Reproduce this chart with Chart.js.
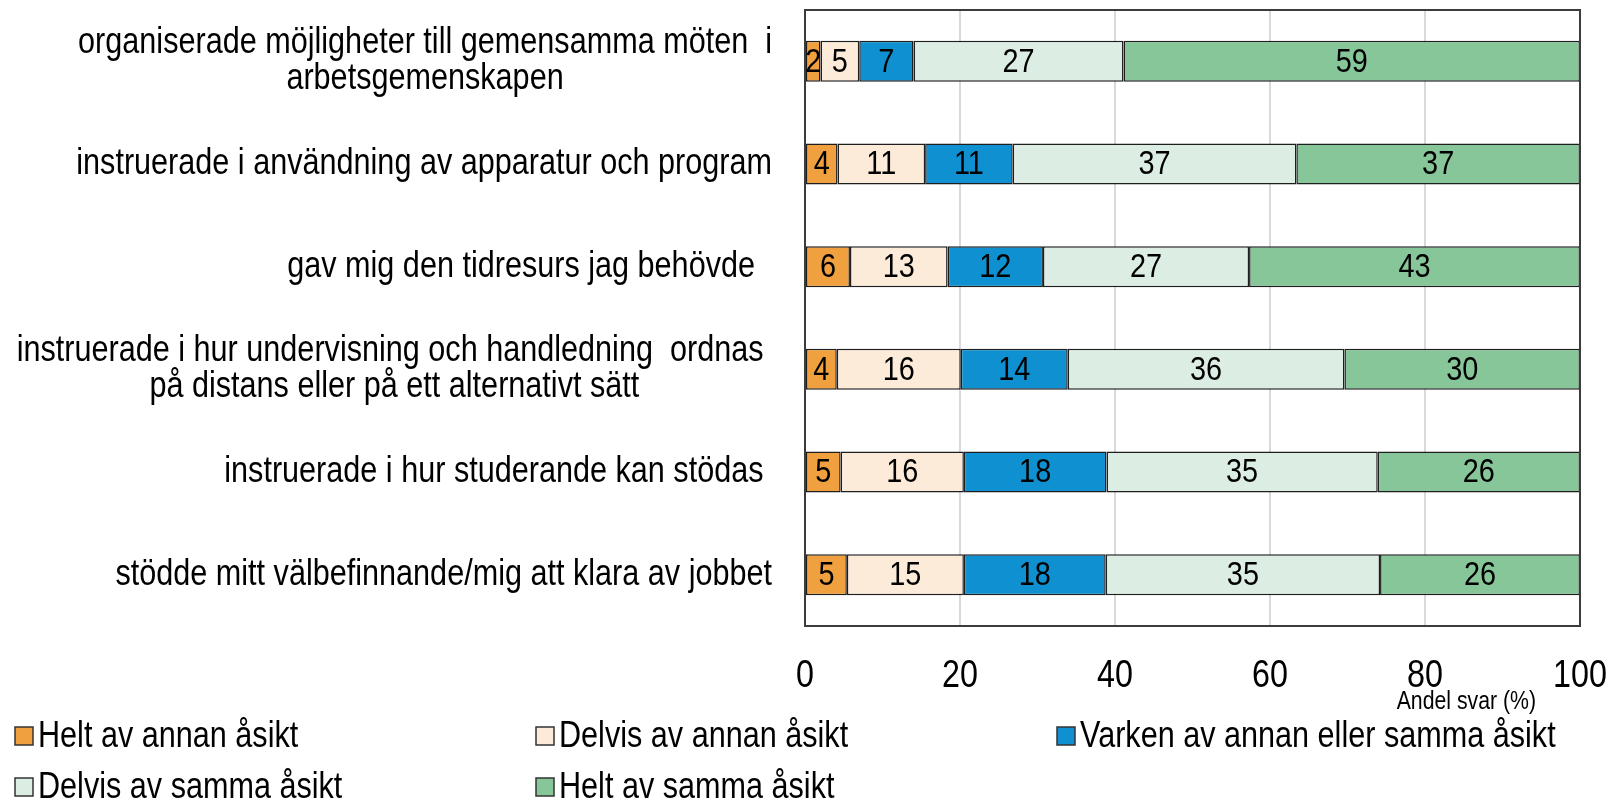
<!DOCTYPE html>
<html>
<head>
<meta charset="utf-8">
<script src="https://cdn.jsdelivr.net/npm/chart.js@4.4.1/dist/chart.umd.min.js"></script>
<style>
  html, body { margin: 0; padding: 0; background: #fff; }
</style>
</head>
<body>
<canvas id="chart" width="1609" height="801"></canvas>
<script>
// statements (multi-line labels keep the original line breaks)
const categories = [
    ['organiserade möjligheter till gemensamma möten  i', 'arbetsgemenskapen'],
    ['instruerade i användning av apparatur och program'],
    ['gav mig den tidresurs jag behövde  '],
    ['instruerade i hur undervisning och handledning  ordnas ', 'på distans eller på ett alternativt sätt'],
    ['instruerade i hur studerande kan stödas '],
    ['stödde mitt välbefinnande/mig att klara av jobbet']
];

const seriesNames = [
    'Helt av annan åsikt',
    'Delvis av annan åsikt',
    'Varken av annan eller samma åsikt',
    'Delvis av samma åsikt',
    'Helt av samma åsikt'
];

// share of answers (%)
const heltAnnan   = [2.0, 4.2, 5.8, 4.1, 4.6, 5.4];
const delvisAnnan = [5.0, 11.3, 12.6, 16.0, 15.9, 15.1];
const varken      = [7.0, 11.3, 12.3, 13.8, 18.4, 18.3];
const delvisSamma = [27.1, 36.6, 26.6, 35.7, 35.0, 35.4];
const heltSamma   = [58.9, 36.6, 42.7, 30.4, 26.1, 25.8];

const xTicks = [0, 20, 40, 60, 80, 100];
const axisTitle = 'Andel svar (%)';

const colors = ['#F0A03E', '#FDEBD9', '#0F91D1', '#DCEEE3', '#86C698'];

const FONT = '"Liberation Sans", Arial, sans-serif';
const SQUEEZE = 0.85; // the original uses a condensed Arial look

const seriesData = [heltAnnan, delvisAnnan, varken, delvisSamma, heltSamma];

function drawText(ctx, text, x, y, size, align) {
    ctx.save();
    ctx.font = size + 'px ' + FONT;
    ctx.translate(x, y);
    ctx.scale(SQUEEZE, 1);
    ctx.textAlign = align;
    ctx.textBaseline = 'middle';
    ctx.fillStyle = '#000';
    ctx.fillText(text, 0, 0);
    ctx.restore();
}

function textWidth(ctx, text, size) {
    ctx.save();
    ctx.font = size + 'px ' + FONT;
    const w = ctx.measureText(text).width * SQUEEZE;
    ctx.restore();
    return w;
}

// draws category labels, value labels, ticks, frame, axis title and legend
const extras = {
    id: 'extras',
    afterDraw(chart) {
        const ctx = chart.ctx;
        const area = chart.chartArea;
        const xScale = chart.scales.x;
        const yScale = chart.scales.y;
        ctx.save();

        // frame around plot
        ctx.strokeStyle = '#3c3c3c';
        ctx.lineWidth = 2;
        ctx.strokeRect(area.left, area.top, area.right - area.left, area.bottom - area.top);

        // value labels inside bars
        chart.data.datasets.forEach((ds, di) => {
            chart.getDatasetMeta(di).data.forEach((bar, i) => {
                const cx = (bar.x + bar.base) / 2;
                drawText(ctx, String(Math.round(ds.data[i])), cx, bar.y + 1, 34, 'center');
            });
        });

        // category labels: blocks right aligned, lines centred
        categories.forEach((lines, i) => {
            const yc = yScale.getPixelForValue(i);
            const w = Math.max(...lines.map(l => textWidth(ctx, l, 36)));
            const cx = area.left - 33 - w / 2;
            lines.forEach((l, j) => {
                drawText(ctx, l, cx, yc + (j - (lines.length - 1) / 2) * 36, 36, 'center');
            });
        });

        // x tick labels
        xTicks.forEach(v => {
            drawText(ctx, String(v), xScale.getPixelForValue(v), area.bottom + 51, 38, 'center');
        });

        // axis title
        drawText(ctx, axisTitle, area.right - 44, area.bottom + 76, 25, 'right');

        // legend, 3 columns
        seriesNames.forEach((name, i) => {
            const col = i % 3, row = Math.floor(i / 3);
            const x = 15 + col * 521;
            const y = 736 + row * 51;
            ctx.fillStyle = colors[i];
            ctx.fillRect(x, y - 9, 18, 18);
            ctx.strokeStyle = '#333';
            ctx.lineWidth = 1.5;
            ctx.strokeRect(x, y - 9, 18, 18);
            drawText(ctx, name, x + 23, y + 1, 36, 'left');
        });

        ctx.restore();
    }
};

const ctx = document.getElementById('chart').getContext('2d');
new Chart(ctx, {
    type: 'bar',
    data: {
        labels: categories.map(c => c.join(' ')),
        datasets: seriesNames.map((name, i) => ({
            label: name,
            data: seriesData[i],
            backgroundColor: colors[i],
            borderColor: '#1e1e1e',
            borderWidth: 1.5,
            borderSkipped: false,
            barPercentage: 0.4,
            categoryPercentage: 1.0
        }))
    },
    options: {
        indexAxis: 'y',
        responsive: false,
        animation: false,
        layout: { padding: { top: 10, right: 29, bottom: 0, left: 0 } },
        plugins: {
            legend: { display: false },
            tooltip: { enabled: false }
        },
        scales: {
            x: {
                stacked: true,
                min: 0,
                max: 100,
                afterBuildTicks: scale => { scale.ticks = xTicks.map(v => ({ value: v })); },
                ticks: { display: false },
                grid: { color: '#d9d9d9', lineWidth: 2, drawTicks: false },
                border: { display: false },
                afterFit: scale => { scale.height = 175; }
            },
            y: {
                stacked: true,
                ticks: { display: false },
                grid: { display: false },
                border: { display: false },
                afterFit: scale => { scale.width = 805; }
            }
        }
    },
    plugins: [extras]
});
</script>
</body>
</html>
